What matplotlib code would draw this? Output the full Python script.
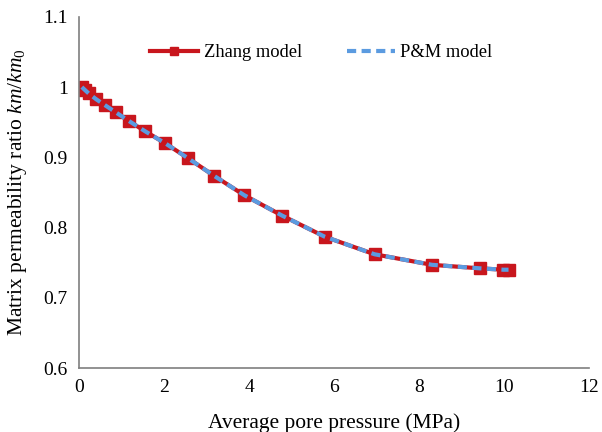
import matplotlib.pyplot as plt

plt.rcParams['font.family'] = ['Liberation Serif', 'DejaVu Serif']
plt.rcParams['mathtext.fontset'] = 'custom'
plt.rcParams['mathtext.rm'] = 'Liberation Serif'
plt.rcParams['mathtext.it'] = 'Liberation Serif:italic'

# Average pore pressure (MPa)
pressure = [0.07, 0.14, 0.23, 0.40, 0.62, 0.87, 1.17, 1.56, 2.03, 2.56, 3.17,
            3.89, 4.78, 5.78, 6.95, 8.30, 9.42, 9.98, 10.10]
# Matrix permeability ratio km/km0
zhang = [1.000, 0.996, 0.991, 0.983, 0.974, 0.964, 0.952, 0.937, 0.920, 0.899,
         0.874, 0.846, 0.817, 0.787, 0.762, 0.747, 0.742, 0.740, 0.740]
pm = [1.000, 0.996, 0.991, 0.983, 0.974, 0.964, 0.952, 0.937, 0.920, 0.899,
      0.874, 0.846, 0.817, 0.787, 0.762, 0.747, 0.742, 0.740, 0.740]

fig = plt.figure(figsize=(6.02, 4.32), dpi=100)
ax = fig.add_axes([0.131, 0.148, 0.848, 0.813])

ax.plot(pressure, zhang, color='#C8161D', lw=3, marker='s', ms=8,
        label='Zhang model', zorder=2)
ax.plot(pressure, pm, color='#5B9BE0', lw=3, ls=(0, (2.2, 1.3)),
        label='P&M model', zorder=3)

ax.set_xlim(0, 12)
ax.set_ylim(0.6, 1.1)
ax.set_xticks(range(0, 13, 2))
ax.set_yticks([0.6, 0.7, 0.8, 0.9, 1.0, 1.1])
ax.set_yticklabels(['0.6', '0.7', '0.8', '0.9', '1', '1.1'])
ax.tick_params(length=0, labelsize=14, pad=8)

for s in ['top', 'right']:
    ax.spines[s].set_visible(False)
for s in ['left', 'bottom']:
    ax.spines[s].set_color('#7f7f7f')
    ax.spines[s].set_linewidth(1.2)

ax.set_xlabel('Average pore pressure (MPa)', fontsize=15.5, labelpad=12)
ax.set_ylabel(r'Matrix permeability ratio $km/km_0$', fontsize=15.5, labelpad=10)

ax.legend(loc='upper center', bbox_to_anchor=(0.475, 0.97), ncol=2,
          frameon=False, fontsize=13.3, handlelength=2.6, handletextpad=0.3,
          columnspacing=2.4, markerscale=0.8)

fig.savefig('out.png', dpi=100)
